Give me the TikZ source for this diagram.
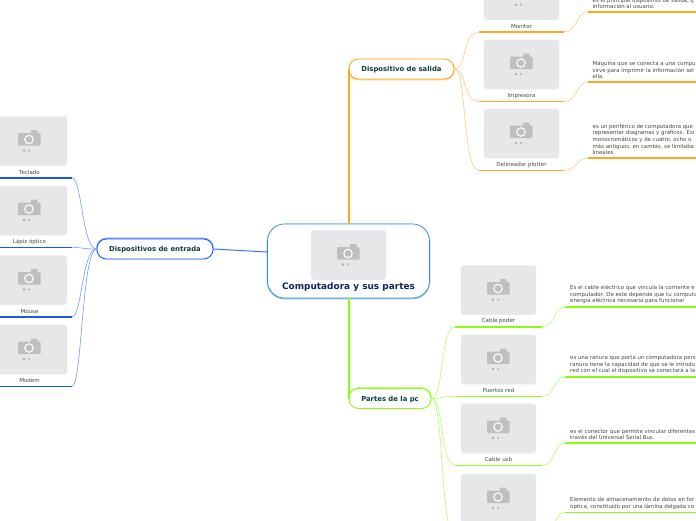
\documentclass[tikz,border=0pt]{standalone}
\usepackage{fontspec}
\setmainfont{DejaVu Sans}
\usetikzlibrary{calc}
\definecolor{cardgray}{RGB}{230,231,232}
\definecolor{camgray}{RGB}{190,191,193}
\definecolor{txtgray}{RGB}{70,70,70}
\definecolor{hubtxt}{RGB}{14,62,58}
\definecolor{roottxt}{RGB}{13,36,92}
\definecolor{croot}{RGB}{58,142,208}
\definecolor{crootl}{RGB}{140,196,232}
\definecolor{csal}{RGB}{255,168,38}
\definecolor{csall}{RGB}{255,208,140}
\definecolor{cent}{RGB}{24,88,240}
\definecolor{centl}{RGB}{128,165,255}
\definecolor{cpar}{RGB}{140,250,20}
\definecolor{cparl}{RGB}{190,255,120}
\tikzset{
  cardbox/.style={fill=cardgray,draw=cardgray!70!white,line width=.4pt,rounded corners=3pt,minimum width=75pt,minimum height=49.5pt,inner sep=0pt},
  cardlab/.style={font=\fontsize{5.5}{6}\selectfont,text=txtgray,inner sep=0pt},
  desc/.style={font=\fontsize{5.4}{6.6}\selectfont,text=txtgray,inner sep=0pt,align=left,anchor=south west},
  hubbox/.style={fill=white,rounded corners=9.5pt,line width=.8pt,inner sep=0pt,minimum height=20pt,text height=6.5pt,text depth=1.4pt,font=\fontsize{6.85}{8}\selectfont\bfseries,text=hubtxt},
  rootbox/.style={fill=white,draw=croot,rounded corners=17pt,line width=.7pt,inner sep=0pt,minimum width=162pt,minimum height=74pt},
  under/.style={line width=1.5pt},
  thinline/.style={line width=.7pt},
  camera/.pic={
    \fill[camgray,rounded corners=.8pt] (-11.3,-7.8) rectangle (11,4.6);
    \fill[camgray,rounded corners=.6pt] (1.5,-11) rectangle (8,-6);
    \fill[white!90!camgray] (-.5,-1.5) circle (4.9pt);
    \fill[camgray] (-.5,-1.5) circle (3.4pt);
    \fill[camgray!90!black] (-5.5,9.5) circle (1.4pt);
    \fill[camgray] (-.5,9.5) circle (1.4pt);
    \fill[camgray!25!cardgray] (4.5,9.5) circle (1.4pt);
  }
}
% card with its picture, caption and the two ends of its rule
\newcommand{\devcard}[5]{
  \node[cardbox] (#1) at (#2,#3) {};
  \pic at (#1) {camera};
  \node[cardlab] (#1lab) at ($(#1)+(0,31.2)$) {#4};
  \coordinate (#1l) at ($(#1)+(-#5,36.8)$);
  \coordinate (#1r) at ($(#1)+(#5,36.8)$);
}
\begin{document}
\begin{tikzpicture}[x=1pt,y=-1pt]
  \useasboundingbox (0,0) rectangle (696,520);
  \clip (0,0) rectangle (696,520);

  \node[rootbox,preaction={draw=crootl,line width=1.6pt,transform canvas={yshift=-.5pt}}] (root) at (348.5,261) {};
  \devcard{rootcard}{348.5}{255}{}{0}
  \node[font=\fontsize{8.95}{10}\selectfont\bfseries,text=roottxt,inner sep=0pt] (roottitle) at (348.5,287) {Computadora y sus partes};

  % salida
  \node[hubbox,draw=csal,minimum width=105pt,preaction={draw=csall,line width=1.6pt,transform canvas={yshift=-.5pt}}] (sal) at (401.5,69) {Dispositivo de salida};
  \devcard{mon}{521.5}{-4.8}{Monitor}{42.5}
  \devcard{imp}{521.5}{64.5}{Impresora}{42.5}
  \devcard{plo}{521.5}{133.5}{Delineador plotter}{42.5}
  \draw[csal,line width=1.8pt] (root.north -| sal.west) -- (sal.west);
  \foreach \nm in {mon,imp,plo}{
    \draw[csall,thinline] (sal.east) .. controls (467,69) and (462,0 |- \nm l) .. (\nm l);
    \draw[csal,under] (\nm l) -- (\nm r);
  }
  \coordinate (mone) at (588,12);
  \coordinate (impe) at (588,82);
  \coordinate (ploe) at (588,158);
  \coordinate (monf) at (696,12);
  \coordinate (impf) at (696,82);
  \coordinate (plof) at (696,158);
  \foreach \nm in {mon,imp,plo}{
    \draw[csall,thinline] (\nm r) .. controls ($(\nm r)+(14,0)$) and ($(\nm e)+(-12,0)$) .. (\nm e);
    \draw[csal,under] (\nm e) -- (\nm f);
  }
  \node[desc] (monT) at (592.5,9) {es el principal dispositivo de salida, q\\información al usuario.};
  \node[desc] (impT) at (592.5,79) {Máquina que se conecta a una compu\\sirve para imprimir la información sel\\ella.};
  \node[desc] (ploT) at (592.5,155) {es un periférico de computadora que\\representar diagramas y gráficos. Exi\\monocromáticos y de cuatro, ocho o\\más antiguos, en cambio, se limitaba\\lineales};

  % entrada
  \node[hubbox,draw=cent,minimum width=116pt,preaction={draw=centl,line width=1.6pt,transform canvas={yshift=.5pt}}] (ent) at (155,249) {Dispositivos de entrada};
  \devcard{tec}{29.5}{141}{Teclado}{42.5}
  \devcard{lap}{29.5}{210.5}{Lápiz óptico}{42.5}
  \devcard{mou}{29.5}{280}{Mouse}{42.5}
  \devcard{mod}{29.5}{349.5}{Modem}{42.5}
  \draw[cent!85!white,line width=1pt] (ent.east) -- (root.west |- 0,252);
  \foreach \nm in {tec,lap,mou,mod}{
    \draw[centl,thinline] (ent.west) .. controls (82,249) and (82,0 |- \nm r) .. (\nm r);
    \draw[cent,under] (\nm l) -- (\nm r);
  }

  % partes
  \node[hubbox,draw=cpar,minimum width=82pt,preaction={draw=cparl,line width=1.6pt,transform canvas={yshift=.5pt}}] (par) at (390,398.5) {Partes de la pc};
  \devcard{pod}{498.5}{290}{Cable poder}{43.5}
  \devcard{red}{498.5}{359.5}{Puertos red}{43.5}
  \devcard{usb}{498.5}{428.5}{Cable usb}{43.5}
  \devcard{dis}{498.5}{498.5}{}{43.5}
  \draw[cpar,line width=1.8pt] (root.south -| par.west) -- (par.west);
  \foreach \nm in {pod,red,usb,dis}{
    \draw[cparl,thinline] (par.east) .. controls (444,398.5) and (440,0 |- \nm l) .. (\nm l);
    \draw[cpar,under] (\nm l) -- (\nm r);
  }
  \coordinate (pode) at (565,307);
  \coordinate (rede) at (565,377);
  \coordinate (usbe) at (565,443);
  \coordinate (dise) at (565,512.5);
  \coordinate (podf) at (696,307);
  \coordinate (redf) at (696,377);
  \coordinate (usbf) at (696,443);
  \coordinate (disf) at (696,512.5);
  \foreach \nm in {pod,red,usb,dis}{
    \draw[cparl,thinline] (\nm r) .. controls ($(\nm r)+(14,0)$) and ($(\nm e)+(-12,0)$) .. (\nm e);
    \draw[cpar,under] (\nm e) -- (\nm f);
  }
  \node[desc] (podT) at (570,304) {Es el cable eléctrico que vincula la corriente e\\computador. De este depende que tu computa\\energía eléctrica necesaria para funcionar};
  \node[desc] (redT) at (570,374) {es una ranura que porta un computadora pers\\ranura tiene la capacidad de que se le introdu\\red con el cual el dispositivo se conectará a la};
  \node[desc] (usbT) at (570,440) {es el conector que permite vincular diferentes\\través del Universal Serial Bus.};
  \node[desc] (disT) at (570,509.5) {Elemento de almacenamiento de datos en for\\óptica, constituido por una lámina delgada co};
\end{tikzpicture}
\end{document}
